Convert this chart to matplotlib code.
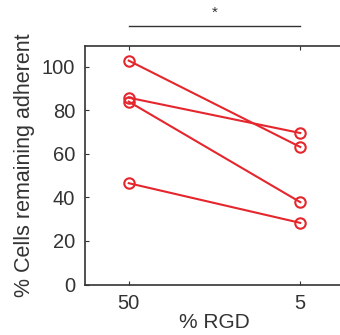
import matplotlib.pyplot as plt

plt.rcParams['font.family'] = ['Liberation Sans', 'DejaVu Sans']

# Data: % cells remaining adherent at 50% and 5% RGD (paired samples)
categories = ['50', '5']
rgd_50 = [102.7, 85.7, 83.9, 46.5]
rgd_5 = [63.1, 69.5, 37.8, 28.3]

fig = plt.figure(figsize=(3.4, 3.35), dpi=100)
# axes run off the right edge, as in the cropped original
ax = fig.add_axes([85 / 340, (335 - 284.6) / 335, 259 / 340, (284.6 - 46) / 335])

red = '#e5262d'
xs = [1, 2]
for a, b in zip(rgd_50, rgd_5):
    ax.plot(xs, [a, b], color=red, linewidth=1.5, marker='o', markersize=7.5,
            markerfacecolor='none', markeredgewidth=1.5, clip_on=False)

ax.set_xlim(0.745, 2.255)
ax.set_ylim(0, 109.4)
ax.set_xticks(xs)
ax.set_xticklabels(categories)
ax.set_yticks([0, 20, 40, 60, 80, 100])
ax.tick_params(direction='in', length=3, width=0.8, colors='#333333',
               labelsize=14.5, top=True, right=True, pad=7)
for lbl in ax.get_xticklabels() + ax.get_yticklabels():
    lbl.set_color('#333333')
for sp in ax.spines.values():
    sp.set_color('#333333')
    sp.set_linewidth(1.2)

ax.set_xlabel('% RGD', fontsize=15, color='#333333', labelpad=0)
ax.set_ylabel('% Cells remaining adherent', fontsize=15.5, color='#333333', labelpad=5)

# significance bar
ax.plot(xs, [118.6, 118.6], color='#333333', linewidth=1.0, clip_on=False)
ax.text(1.5, 124.5, '*', ha='center', va='center', fontsize=11, color='#333333')

fig.savefig('out.png', dpi=100)
